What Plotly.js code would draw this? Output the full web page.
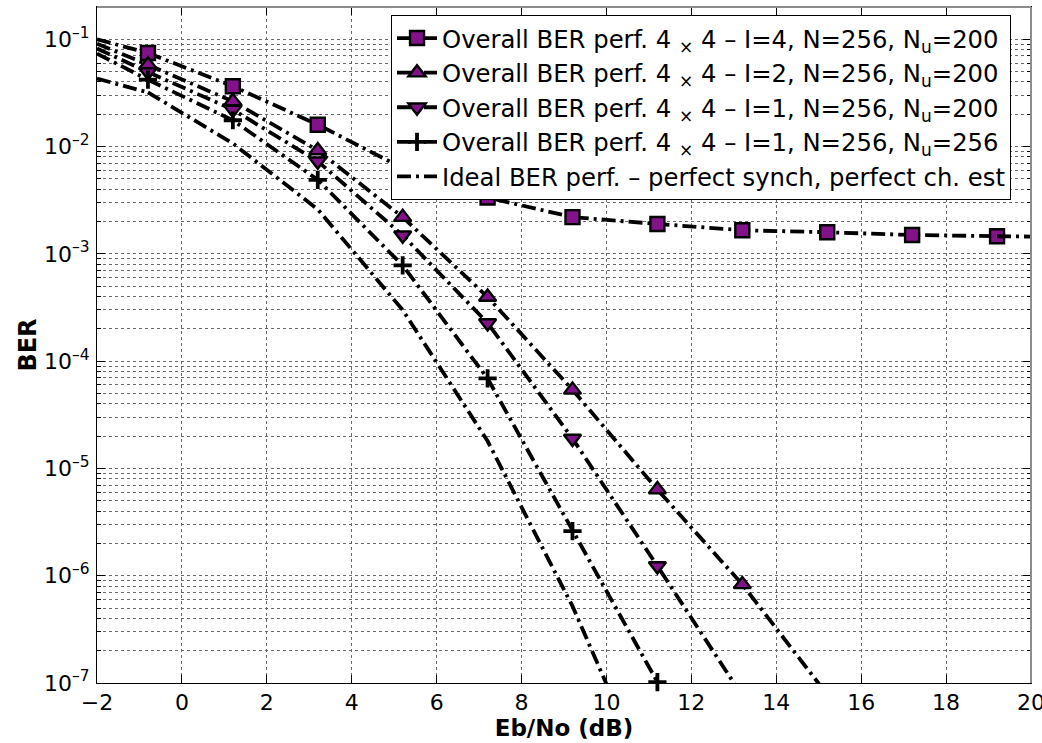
<!DOCTYPE html>
<html><head><meta charset="utf-8">
<script src="https://cdn.plot.ly/plotly-3.0.1.min.js"></script>
<style>html,body{margin:0;padding:0;background:#fff}#chart{width:1042px;height:743px}</style>
</head><body><div id="chart"></div>
<script>
// Eb/No (dB) where the markers sit
const ebno = [-0.8, 1.2, 3.2, 5.2, 7.2, 9.2, 11.2, 13.2, 15.2, 17.2, 19.2];
// BER values (null = curve has left the plot)
const berI4Nu200 = [0.0745, 0.0365, 0.016, 0.0063, 0.00335, 0.0022, 0.0019, 0.00166, 0.00159, 0.0015, 0.00146];
const berI2Nu200 = [0.058, 0.0264, 0.0092, 0.0022, 0.000396, 5.4e-5, 6.35e-6, 8.3e-7, 7.8e-8, null, null];
const berI1Nu200 = [0.0496, 0.0221, 0.0073, 0.00149, 0.000227, 1.9e-5, 1.23e-6, 7.6e-8, null, null, null];
const berI1Nu256 = [0.042, 0.0176, 0.0049, 0.00078, 6.9e-5, 2.6e-6, 1.02e-7, null, null, null, null];
const berIdeal   = [0.032, 0.0107, 0.0026, 0.0003, 1.8e-5, 5.2e-7, 8e-9, null, null, null, null];
// values where the curves enter at the left edge of the plot (x = -2), same order as above
const leftEdgeX = -2;
const leftEdgeBer = [0.1, 0.091, 0.082, 0.0736, 0.043];
// where the I=4 curve leaves at the right edge
const rightEdgeX = 20;
const rightEdgeBerI4 = 0.00145;

// y-axis tick values and labels
const yTickVals = [1e-7, 1e-6, 1e-5, 1e-4, 1e-3, 1e-2, 1e-1];
const yTickText = ['10<sup>–7</sup>', '10<sup>–6</sup>', '10<sup>–5</sup>', '10<sup>–4</sup>',
                   '10<sup>–3</sup>', '10<sup>–2</sup>', '10<sup>–1</sup>'];

const names = [
  'Overall BER perf. 4 <sub>×</sub> 4 – I=4, N=256, N<sub>u</sub>=200',
  'Overall BER perf. 4 <sub>×</sub> 4 – I=2, N=256, N<sub>u</sub>=200',
  'Overall BER perf. 4 <sub>×</sub> 4 – I=1, N=256, N<sub>u</sub>=200',
  'Overall BER perf. 4 <sub>×</sub> 4 – I=1, N=256, N<sub>u</sub>=256',
  'Ideal BER perf. – perfect synch, perfect ch. est'
];
const seriesY = [berI4Nu200, berI2Nu200, berI1Nu200, berI1Nu256, berIdeal];
const symbols = ['square', 'triangle-up', 'triangle-down', 'cross-thin', null];
const msizes = [14, 15, 15, 13, 0];

const purple = '#82128a';
const dashPat = '14px,5px,3px,5px';
const lw = 3.8;
const FONT = '"DejaVu Sans", Verdana, sans-serif';

const traces = [];
seriesY.forEach((ys, i) => {
  // lead-in segment from the left edge to the first marker
  traces.push({
    x: [leftEdgeX, ebno[0]], y: [leftEdgeBer[i], ys[0]],
    mode: 'lines', showlegend: false, hoverinfo: 'skip',
    line: {color: '#000', width: lw, dash: dashPat}
  });
});
seriesY.forEach((ys, i) => {
  const t = {
    x: ebno, y: ys, name: names[i],
    line: {color: '#000', width: lw, dash: dashPat}
  };
  if (symbols[i]) {
    t.mode = 'lines+markers';
    if (symbols[i] === 'cross-thin') {
      t.marker = {symbol: 'cross-thin', size: msizes[i], color: '#000', line: {color: '#000', width: 3.8}};
      t.cliponaxis = false;
    } else {
      t.marker = {symbol: symbols[i], size: msizes[i], color: purple, line: {color: '#000', width: 2.4}};
    }
  } else {
    t.mode = 'lines';
  }
  traces.push(t);
});
// tail of the I=4 curve to the right edge
traces.push({
  x: [ebno[ebno.length - 1], rightEdgeX], y: [berI4Nu200[berI4Nu200.length - 1], rightEdgeBerI4],
  mode: 'lines', showlegend: false, hoverinfo: 'skip',
  line: {color: '#000', width: lw, dash: dashPat}
});
const gridCol = '#6a6a6a';
const layout = {
  width: 1042, height: 743,
  margin: {l: 97, r: 11, t: 7, b: 60},
  paper_bgcolor: '#fff', plot_bgcolor: '#fff',
  font: {family: FONT, color: '#000', size: 22},
  showlegend: true,
  xaxis: {
    range: [-2, 20], dtick: 2, tick0: -2,
    ticks: 'inside', ticklen: 8, tickcolor: '#000', tickwidth: 1,
    showline: true, linecolor: '#000', linewidth: 1, mirror: 'ticks',
    showgrid: true, gridcolor: gridCol, griddash: 'dot', gridwidth: 1,
    zeroline: false, ticklabeloverflow: 'allow',
    tickfont: {size: 22, family: FONT},
    title: {text: '<b>Eb/No (dB)</b>', font: {size: 23, family: FONT}, standoff: 2}
  },
  yaxis: {
    type: 'log', range: [-7, Math.log10(0.2)],
    tickmode: 'array', tickvals: yTickVals, ticktext: yTickText,
    ticks: 'inside', ticklen: 8, tickcolor: '#000', tickwidth: 1,
    showline: true, linecolor: '#000', linewidth: 1, mirror: 'ticks',
    showgrid: true, gridcolor: gridCol, griddash: 'dot', gridwidth: 1,
    minor: {dtick: 'D1', ticks: 'inside', ticklen: 4, tickcolor: '#000',
            showgrid: true, gridcolor: gridCol, griddash: 'dot', gridwidth: 1},
    zeroline: false, ticklabeloverflow: 'allow', ticklabelstandoff: 2,
    tickfont: {size: 22, family: FONT},
    title: {text: '<b>BER</b>', font: {size: 24, family: FONT}, standoff: 0}
  },
  legend: {
    x: 0.3148, y: 0.9885, xanchor: 'left', yanchor: 'top',
    bgcolor: '#fff', bordercolor: '#000', borderwidth: 1,
    font: {size: 24.3, family: FONT, color: '#000'},
    itemwidth: 40, tracegroupgap: 0
  },
  shapes: [
    {type: 'line', xref: 'paper', yref: 'paper', x0: 0, x1: 1, y0: 1, y1: 1,
     line: {color: '#8c8c8c', width: 2}, layer: 'above'},
    {type: 'line', xref: 'paper', yref: 'paper', x0: 1, x1: 1, y0: 0, y1: 1,
     line: {color: '#8c8c8c', width: 2}, layer: 'above'}
  ]
};
Plotly.newPlot('chart', traces, layout, {displayModeBar: false, staticPlot: true});
</script>
</body></html>
